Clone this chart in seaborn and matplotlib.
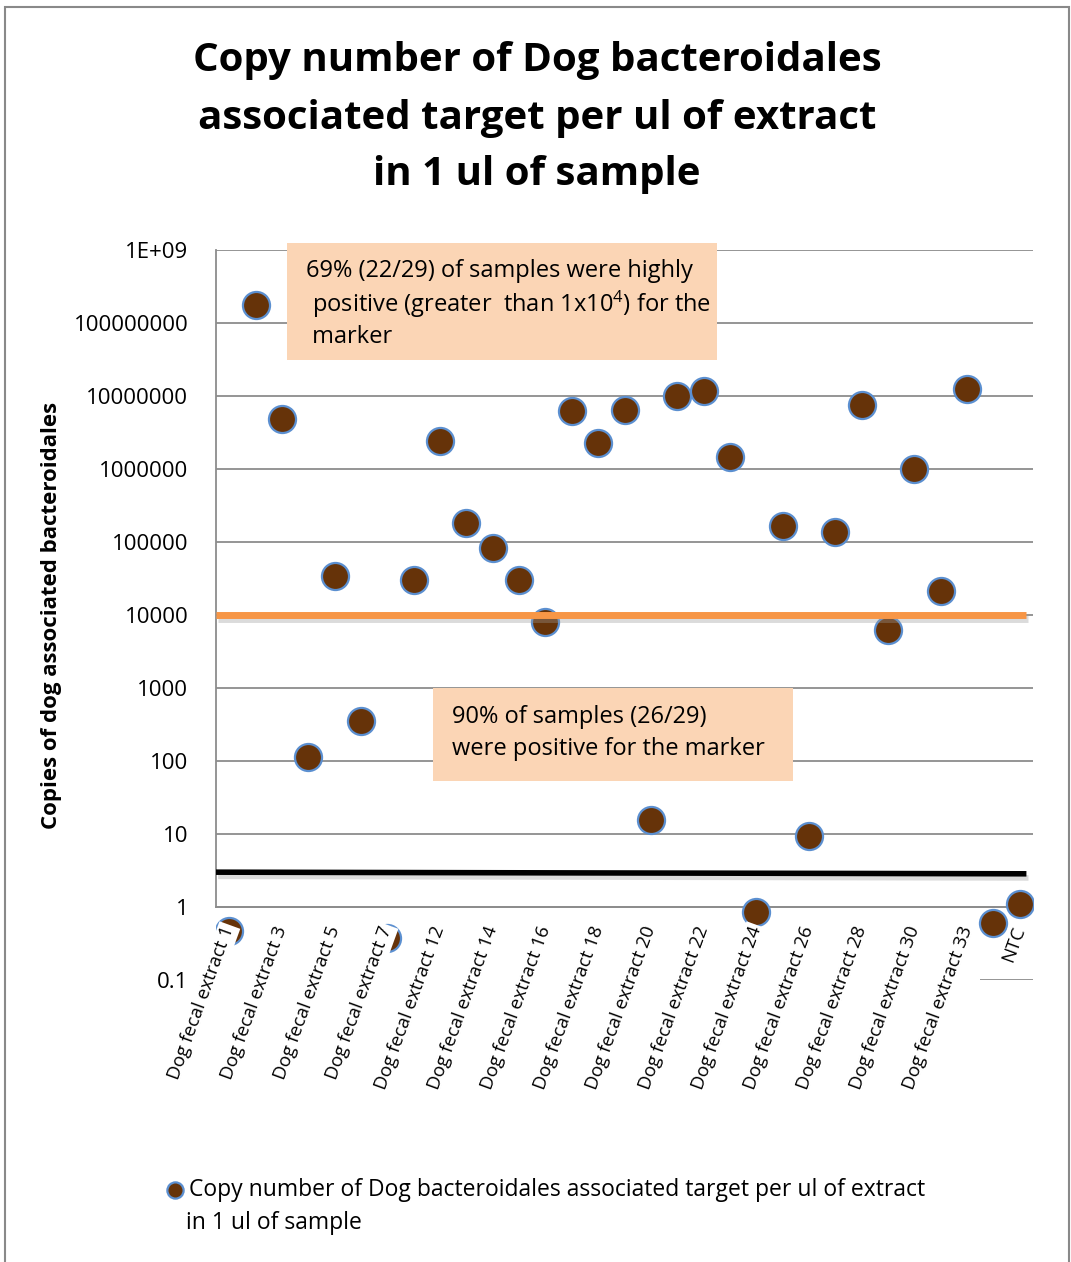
import numpy as np
import pandas as pd
import matplotlib
matplotlib.use("Agg")
import matplotlib.pyplot as plt
import matplotlib.patheffects as pe
import matplotlib.transforms as mtransforms
from matplotlib.patches import Rectangle
import seaborn as sns

# ---------------------------------------------------------------
# Data
# ---------------------------------------------------------------
samples = [
    "Dog fecal extract 1", "Dog fecal extract 2", "Dog fecal extract 3",
    "Dog fecal extract 4", "Dog fecal extract 5", "Dog fecal extract 6",
    "Dog fecal extract 7", "Dog fecal extract 11", "Dog fecal extract 12",
    "Dog fecal extract 13", "Dog fecal extract 14", "Dog fecal extract 15",
    "Dog fecal extract 16", "Dog fecal extract 17", "Dog fecal extract 18",
    "Dog fecal extract 19", "Dog fecal extract 20", "Dog fecal extract 21",
    "Dog fecal extract 22", "Dog fecal extract 23", "Dog fecal extract 24",
    "Dog fecal extract 25", "Dog fecal extract 26", "Dog fecal extract 27",
    "Dog fecal extract 28", "Dog fecal extract 29", "Dog fecal extract 30",
    "Dog fecal extract 31", "Dog fecal extract 33", "Dog fecal extract 34",
    "NTC",
]
copies = [
    0.47, 1.77e8, 4.8e6, 113, 34200, 353, 0.38, 30100, 2.42e6, 182000,
    82800, 30100, 8000, 6.2e6, 2.27e6, 6.4e6, 15.5, 1.0e7, 1.17e7, 1.46e6,
    0.85, 166000, 9.4, 137000, 7.5e6, 6230, 1.0e6, 21300, 1.25e7, 0.6,
    1.1,
]
high_threshold = 1e4
detect_limit = [3.0, 2.85]

ytick_values = [0.1, 1, 10, 100, 1000, 10000, 100000, 1000000,
                10000000, 100000000, 1e9]
ytick_labels = ["0.1", "1", "10", "100", "1000", "10000", "100000",
                "1000000", "10000000", "100000000", "1E+09"]

series_name = "Copy number of Dog bacteroidales associated target per ul of extract"
series_name_2 = " in 1 ul of sample"
title = ("Copy number of Dog bacteroidales\n"
         "associated target per ul of extract\n"
         "in 1 ul of sample")
note_high = ["69% (22/29) of samples were highly",
             " positive (greater  than 1x10$^{4}$) for the",
             " marker"]
note_pos = ["90% of samples (26/29)",
            "were positive for the marker"]

df = pd.DataFrame({"idx": np.arange(len(samples)), "sample": samples, "copies": copies})

# ---------------------------------------------------------------
# Style
# ---------------------------------------------------------------
sns.set_theme(style="white", rc={"text.color": "black", "axes.labelcolor": "black",
                                 "xtick.color": "black", "ytick.color": "black"})
plt.rcParams["font.family"] = ["Open Sans", "DejaVu Sans"]
plt.rcParams["mathtext.fontset"] = "custom"
plt.rcParams["mathtext.rm"] = "Open Sans"
plt.rcParams["mathtext.it"] = "Open Sans:italic"
plt.rcParams["mathtext.bf"] = "Open Sans:bold"

GRID = "#8c8c8c"
BROWN = "#663309"
EDGE = "#5b8fd0"
ORANGE = "#f79646"
PEACH = "#fbd5b5"

W, H = 1071, 1262
fig = plt.figure(figsize=(W / 100, H / 100), dpi=100)


def px(x, y):
    """pixel (from top-left) -> figure fraction"""
    return x / W, 1 - y / H


left, bottom = px(216, 980)
right, top = px(1033, 250)
ax = fig.add_axes([left, bottom, right - left, top - bottom])

# points
sns.scatterplot(data=df, x="idx", y="copies", ax=ax, s=380, color=BROWN,
                edgecolor=EDGE, linewidth=1.6, zorder=3, label=series_name)

ax.set_yscale("log")
ax.set_ylim(0.1, 1e9)
ax.set_xlim(-0.5, len(samples) - 0.5)

# y axis
ax.set_yticks(ytick_values)
ax.set_yticklabels(ytick_labels, fontsize=16)
ax.yaxis.set_minor_locator(matplotlib.ticker.NullLocator())
ax.tick_params(axis="y", which="major", direction="out", length=6.5, width=1.2,
               color=GRID, pad=13.5, labelcolor="black")
ax.yaxis.grid(True, color=GRID, linewidth=1.3, zorder=0)
ax.set_axisbelow(True)
ax.set_ylabel("Copies of dog associated bacteroidales", fontsize=16,
              fontweight="bold")
ax.yaxis.set_label_coords(-0.189, 0.5)

# x axis crosses at 1 like Excel
for s in ["top", "right"]:
    ax.spines[s].set_visible(False)
ax.spines["bottom"].set_position(("data", 1))
ax.spines["bottom"].set_color(GRID)
ax.spines["bottom"].set_linewidth(1.3)
ax.spines["left"].set_color(GRID)
ax.spines["left"].set_linewidth(1.3)
ax.spines["left"].set_bounds(1, 1e9)
ax.set_xticks([])
ax.set_xticks(np.arange(-0.5, len(samples), 1), minor=True)
ax.tick_params(axis="x", which="minor", direction="out", length=4.5, width=1.2,
               color=GRID)
ax.set_xlabel("")

# hide grid line and tick at 0.1 (covered by the label area in Excel)
yt0 = ax.yaxis.get_major_ticks()[0]
yt0.gridline.set_visible(False)
yt0.tick1line.set_visible(False)
ax.hlines(0.1, len(samples) - 2.5, len(samples) - 0.5, color=GRID, linewidth=1.3, zorder=0)

# category labels (every other one), white background like Excel
lab_tr = mtransforms.offset_copy(ax.transData, fig=fig, y=-20, units="dots")
for i, name in enumerate(samples):
    if i % 2:
        continue
    ax.text(i, 1, name, transform=lab_tr, rotation=70, rotation_mode="anchor",
            ha="right", va="center", fontsize=13.5, zorder=5, clip_on=False,
            bbox=dict(facecolor="white", edgecolor="none", pad=1.5))

# threshold lines
shadow = [pe.SimpleLineShadow(offset=(1.5, -3), shadow_color="#9a9a9a", alpha=0.35),
          pe.Normal()]
ax.plot([-0.5, len(samples) - 0.75], [high_threshold, high_threshold], color=ORANGE,
        linewidth=5, solid_capstyle="butt", zorder=4, path_effects=shadow)
ax.plot([-0.5, len(samples) - 0.75], detect_limit, color="black",
        linewidth=4, solid_capstyle="butt", zorder=4, path_effects=shadow)

# annotation boxes
def note_box(x0, y0, x1, y1, tx, ty, lines, step):
    fx0, fy1 = px(x0, y1)
    fx1, fy0 = px(x1, y0)
    fig.add_artist(Rectangle((fx0, fy1), fx1 - fx0, fy0 - fy1, transform=fig.transFigure,
                             facecolor=PEACH, edgecolor="none", zorder=6))
    for k, line in enumerate(lines):
        fx, fy = px(tx, ty + k * step)
        fig.text(fx, fy, line, fontsize=17, ha="left", va="center", zorder=7)


note_box(287, 243, 717, 360, 306, 271, note_high, 33)
note_box(433, 688, 793, 781, 452, 717, note_pos, 32)

# title
tx, ty = px(537, 118)
fig.text(tx, ty, title, fontsize=29, fontweight="bold", ha="center", va="center",
         linespacing=1.6)

# legend (first line carries the marker, second line wraps under it)
handles, labels = ax.get_legend_handles_labels()
ax.legend_.remove()
fig.legend(handles, labels, loc="center left", bbox_to_anchor=px(152, 1190),
           frameon=False, fontsize=16.5, handletextpad=0.1, borderpad=0,
           markerscale=0.6, handlelength=1.0)
lx, ly = px(180, 1223)
fig.text(lx, ly, series_name_2, fontsize=16.5, ha="left", va="center")

# chart area border
bx0, by0 = px(5, 1300)
bx1, by1 = px(1069, 7)
fig.add_artist(Rectangle((bx0, by0), bx1 - bx0, by1 - by0, transform=fig.transFigure,
                         facecolor="none", edgecolor="#898989", linewidth=1.5, zorder=0))

fig.savefig("out.png", dpi=100)
